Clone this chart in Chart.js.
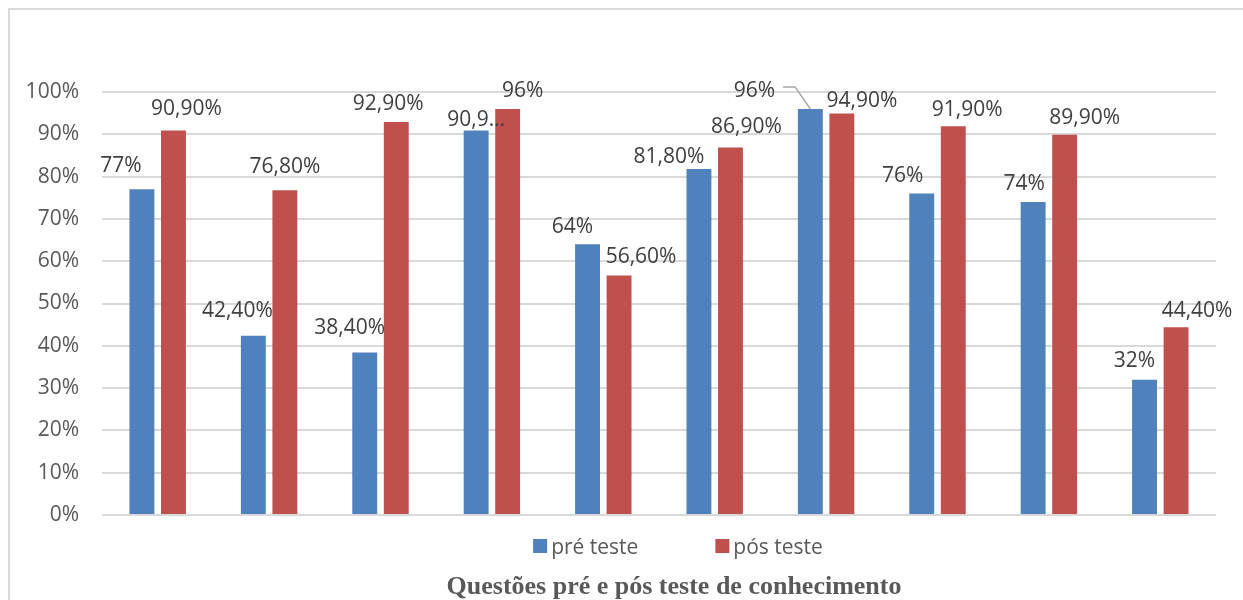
<!DOCTYPE html>
<html>
<head>
<meta charset="utf-8">
<script src="https://cdn.jsdelivr.net/npm/chart.js@4/dist/chart.umd.min.js"></script>
<style>
  html, body { margin: 0; padding: 0; background: #fff; }
  #wrap { position: relative; width: 1243px; height: 600px; overflow: hidden; }
</style>
</head>
<body>
<div id="wrap"><canvas id="c" width="1243" height="600"></canvas></div>
<script>
// ─── Data ────────────────────────────────────────────
var categories = ['Q1', 'Q2', 'Q3', 'Q4', 'Q5', 'Q6', 'Q7', 'Q8', 'Q9', 'Q10'];
var preTeste = [77, 42.4, 38.4, 90.9, 64, 81.8, 96, 76, 74, 32];
var posTeste = [90.9, 76.8, 92.9, 96, 56.6, 86.9, 94.9, 91.9, 89.9, 44.4];
var preLabels = ['77%', '42,40%', '38,40%', '90,9\u2026', '64%', '81,80%', '96%', '76%', '74%', '32%'];
var posLabels = ['90,90%', '76,80%', '92,90%', '96%', '56,60%', '86,90%', '94,90%', '91,90%', '89,90%', '44,40%'];
var yTicks = [0, 10, 20, 30, 40, 50, 60, 70, 80, 90, 100];
var seriesNames = ['pré teste', 'pós teste'];
var chartTitle = 'Questões pré e pós teste de conhecimento';

// label nudges (px, from bar top centre) – Excel moved them around
var preDx = [-21, -16, -15, 0, -15, -30, -56, -19, -9, -10];
var preDy = [-25, -26, -26, -12, -19, -13, -19, -19, -19, -20];
var posDx = [13, 0, -8, 15, 22, 16, 20, 14, 20, 21];
var posDy = [-23, -25, -20, -19, -20, -22, -14, -18, -18, -18];
var preLeader = [false, false, false, false, false, false, true, false, false, false];

var BLUE = '#4f81bd', RED = '#c0504d';
var FONT = '"Open Sans", sans-serif';

// ─── Plugin: frame, data labels, legend, title ───────
var decor = {
  id: 'decor',
  beforeDraw: function(chart) {
    var ctx = chart.ctx;
    ctx.save();
    ctx.strokeStyle = '#d9d9d9';
    ctx.lineWidth = 2;
    ctx.strokeRect(9, 9, 1400, 800);
    ctx.restore();
  },
  afterDatasetsDraw: function(chart) {
    var ctx = chart.ctx;
    ctx.save();
    ctx.font = '21px ' + FONT;
    ctx.fillStyle = '#404040';
    ctx.textAlign = 'center';
    ctx.textBaseline = 'alphabetic';
    var sets = [
      { meta: chart.getDatasetMeta(0), txt: preLabels, dx: preDx, dy: preDy, lead: preLeader },
      { meta: chart.getDatasetMeta(1), txt: posLabels, dx: posDx, dy: posDy, lead: null }
    ];
    sets.forEach(function(s) {
      s.meta.data.forEach(function(bar, i) {
        var cx = bar.x + s.dx[i];
        var cy = bar.y + s.dy[i];
        ctx.fillText(s.txt[i], cx, cy + 7.5);
        if (s.lead && s.lead[i]) {
          var w = ctx.measureText(s.txt[i]).width;
          var x0 = cx + w / 2 + 8;
          ctx.save();
          ctx.strokeStyle = '#a6a6a6';
          ctx.lineWidth = 1.5;
          ctx.beginPath();
          ctx.moveTo(x0, cy - 3);
          ctx.lineTo(x0 + 12, cy - 3);
          ctx.lineTo(bar.x, bar.y);
          ctx.stroke();
          ctx.restore();
        }
      });
    });
    ctx.restore();

    // legend
    ctx.save();
    ctx.font = '21px ' + FONT;
    ctx.textBaseline = 'alphabetic';
    ctx.textAlign = 'left';
    var box = 14, gapTxt = 4, gapItem = 77;
    var w1 = ctx.measureText(seriesNames[0]).width;
    var w2 = ctx.measureText(seriesNames[1]).width;
    var total = box + gapTxt + w1 + gapItem + box + gapTxt + w2;
    var lx = 678 - total / 2, ly = 546;
    [[BLUE, seriesNames[0], w1], [RED, seriesNames[1], w2]].forEach(function(it) {
      ctx.fillStyle = it[0];
      ctx.fillRect(lx, ly - 7, box, box);
      ctx.fillStyle = '#595959';
      ctx.fillText(it[1], lx + box + gapTxt, ly + 7.5);
      lx += box + gapTxt + it[2] + gapItem;
    });
    ctx.restore();

    // title
    ctx.save();
    ctx.font = 'bold 26px "Liberation Serif", serif';
    ctx.fillStyle = '#595959';
    ctx.textAlign = 'center';
    ctx.textBaseline = 'alphabetic';
    ctx.fillText(chartTitle, 674, 594);
    ctx.restore();
  }
};

// ─── Chart ───────────────────────────────────────────
new Chart(document.getElementById('c').getContext('2d'), {
  type: 'bar',
  data: {
    labels: categories,
    datasets: [
      { label: seriesNames[0], data: preTeste, backgroundColor: BLUE,
        categoryPercentage: 0.566, barPercentage: 0.79 },
      { label: seriesNames[1], data: posTeste, backgroundColor: RED,
        categoryPercentage: 0.566, barPercentage: 0.79 }
    ]
  },
  options: {
    responsive: false,
    animation: false,
    layout: { padding: { top: 92, right: 27, bottom: 85, left: 0 } },
    plugins: {
      legend: { display: false },
      tooltip: { enabled: false }
    },
    scales: {
      x: { display: false },
      y: {
        min: 0, max: 100,
        afterFit: function(s) { s.width = 102; },
        afterBuildTicks: function(s) { s.ticks = yTicks.map(function(v) { return { value: v }; }); },
        border: { display: false },
        grid: { color: '#d9d9d9', lineWidth: 2, drawTicks: false },
        ticks: {
          color: '#595959', padding: 23,
          font: { family: FONT, size: 21 },
          callback: function(v) { return v + '%'; }
        }
      }
    }
  },
  plugins: [decor]
});
</script>
</body>
</html>
